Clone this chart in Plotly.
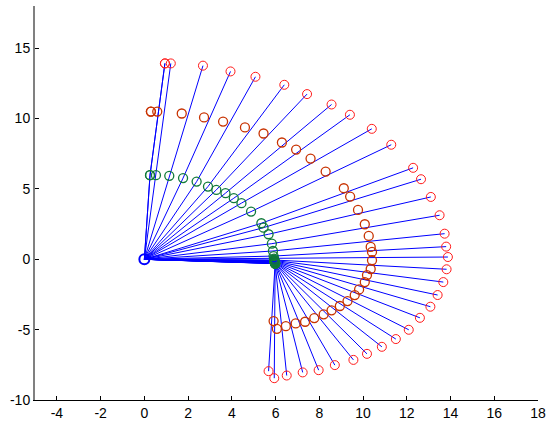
import plotly.graph_objects as go

# Base joint
base_x = [0.0]
base_y = [0.0]

# First joint (green circles), one per arm configuration
green_x = [0.26, 0.26, 0.53, 1.14, 1.77, 2.39, 2.91, 3.29, 3.71, 4.09, 4.44, 4.88, 5.35, 5.45, 5.68, 5.83, 5.88, 5.91, 5.93,
           5.94, 5.94, 5.95, 5.95, 5.96, 5.96, 5.96, 5.97, 5.97, 5.97, 5.97, 5.98, 5.98, 5.98, 5.98, 5.98]
green_y = [5.98, 5.98, 5.98, 5.93, 5.77, 5.52, 5.17, 4.93, 4.70, 4.34, 3.99, 3.39, 2.56, 2.25, 1.78, 1.11, 0.59, 0.23, 0.05,
           -0.05, -0.08, -0.11, -0.14, -0.17, -0.19, -0.21, -0.23, -0.25, -0.26, -0.27, -0.28, -0.29, -0.30, -0.30, -0.31]

# Intermediate point (dark red circles)
mid_x = [0.30, 0.30, 0.59, 1.71, 2.73, 3.60, 4.60, 5.45, 6.29, 6.94, 7.60, 8.29, 9.12, 9.41, 9.77, 10.08, 10.26, 10.35, 10.41,
         10.41, 10.35, 10.18, 10.08, 9.82, 9.62, 9.29, 8.94, 8.56, 8.20, 7.77, 7.35, 6.92, 6.47, 6.06, 5.91]
mid_y = [10.50, 10.50, 10.50, 10.36, 10.08, 9.79, 9.37, 8.94, 8.30, 7.80, 7.16, 6.23, 5.05, 4.46, 3.51, 2.49, 1.66, 0.88, 0.52,
         -0.07, -0.69, -1.12, -1.62, -2.14, -2.54, -2.97, -3.32, -3.63, -3.91, -4.18, -4.44, -4.56, -4.75, -4.94, -4.39]

# End effector (red circles)
end_x = [0.94, 0.94, 1.21, 2.68, 3.94, 5.08, 6.40, 7.44, 8.56, 9.40, 10.40, 11.29, 12.29, 12.65, 13.10, 13.50, 13.73, 13.80, 13.88,
         13.82, 13.67, 13.41, 13.08, 12.60, 12.09, 11.50, 10.86, 10.18, 9.56, 8.71, 7.97, 7.24, 6.51, 5.94, 5.68]
end_y = [13.92, 13.92, 13.92, 13.76, 13.35, 12.97, 12.40, 11.74, 11.00, 10.27, 9.27, 8.14, 6.50, 5.69, 4.43, 3.13, 1.82, 0.90, 0.16,
         -0.71, -1.62, -2.54, -3.37, -4.16, -5.01, -5.67, -6.22, -6.72, -7.15, -7.52, -7.88, -8.04, -8.26, -8.45, -7.95]

x_ticks = list(range(-4, 19, 2))
x_tick_labels = ["-4", "-2", "0", "2", "4", "6", "8", "10", "12", "14", "16", "18"]
y_ticks = [-10, -5, 0, 5, 10, 15]
y_tick_labels = ["-10", "-5", "0", "5", "10", "15"]

# Arm links: base -> first joint -> end effector, for each configuration
lx, ly = [], []
for gx, gy, ex, ey in zip(green_x, green_y, end_x, end_y):
    lx += [base_x[0], gx, ex, None]
    ly += [base_y[0], gy, ey, None]

fig = go.Figure()
fig.add_trace(go.Scatter(x=lx, y=ly, mode="lines", line=dict(color="#0000ff", width=1),
                         hoverinfo="skip", showlegend=False))
fig.add_trace(go.Scatter(x=green_x, y=green_y, mode="markers",
                         marker=dict(symbol="circle-open", size=9, color="#117a3a", line=dict(width=1.3)),
                         showlegend=False))
fig.add_trace(go.Scatter(x=mid_x, y=mid_y, mode="markers",
                         marker=dict(symbol="circle-open", size=9, color="#c83200", line=dict(width=1.3)),
                         showlegend=False))
fig.add_trace(go.Scatter(x=end_x, y=end_y, mode="markers",
                         marker=dict(symbol="circle-open", size=9, color="#ff1a1a", line=dict(width=1)),
                         showlegend=False))
fig.add_trace(go.Scatter(x=base_x, y=base_y, mode="markers",
                         marker=dict(symbol="circle-open", size=10, color="#0000ff", line=dict(width=2)),
                         showlegend=False))

fig.update_layout(
    width=550, height=427,
    margin=dict(l=35, r=12, t=6, b=27, pad=0, autoexpand=False),
    paper_bgcolor="white", plot_bgcolor="white",
    font=dict(family="Liberation Sans, Arial, sans-serif", size=14, color="black"),
    xaxis=dict(range=[-5, 18], tickvals=x_ticks, ticktext=x_tick_labels, ticks="inside", ticklen=4,
               tickcolor="black", showline=True, linecolor="black", linewidth=1,
               showgrid=False, zeroline=False),
    yaxis=dict(range=[-10, 18], tickvals=y_ticks, ticktext=y_tick_labels, ticks="inside", ticklen=4,
               tickcolor="black", showline=True, linecolor="#808080", linewidth=2,
               showgrid=False, zeroline=False),
)

fig.write_html("out.html", config={"displayModeBar": False},
               post_script="document.body.style.margin='0';document.body.style.padding='0';")
